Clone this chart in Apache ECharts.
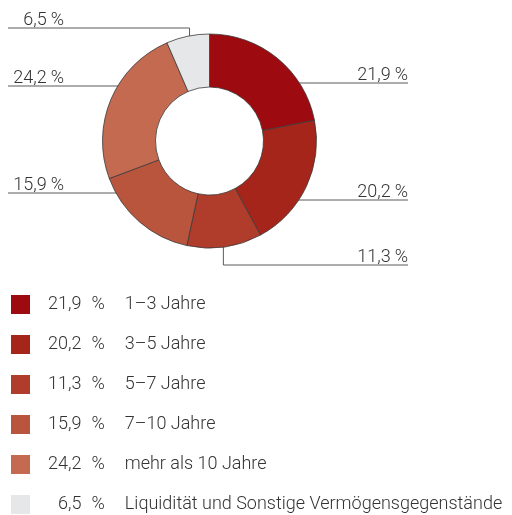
<!DOCTYPE html>
<html>
<head>
<meta charset="utf-8">
<script src="https://cdn.jsdelivr.net/npm/echarts@6/dist/echarts.min.js"></script>
<style>
  html, body { margin: 0; padding: 0; background: #fff; }
  #main { width: 512px; height: 515px; }
</style>
</head>
<body>
<div id="main"></div>
<script>
var categories = ['1–3 Jahre', '3–5 Jahre', '5–7 Jahre', '7–10 Jahre', 'mehr als 10 Jahre', 'Liquidität und Sonstige Vermögensgegenstände']
var shares = [21.9, 20.2, 11.3, 15.9, 24.2, 6.5]
var colors = ['#9d0a10', '#a6251b', '#b03c2b', '#ba553d', '#c46a51', '#e6e7e8']

// label layout (y of each leader line, and whether it starts with a vertical bend)
var lineY = [83, 200, 265, 193, 86, 28]
var bend = [false, false, true, false, false, true]

var cx = 209.5, cy = 141, rOut = 107, rIn = 54
var font = 'Roboto'
var fs = 18
var fmt = function (v) { return String(v).replace('.', ',') }

var total = shares.reduce(function (a, b) { return a + b }, 0)
var midAngles = []
var acc = 0
shares.forEach(function (v) {
  midAngles.push((acc + v / 2) / total * 2 * Math.PI)
  acc += v
})

function txt(extra) {
  var s = { fontFamily: font, fontWeight: 300, fontSize: fs, lineHeight: 19, color: '#333' }
  for (var k in extra) s[k] = extra[k]
  return s
}

var chart = echarts.init(document.getElementById('main'))

var option = {
  animation: false,
  color: colors,
  legend: {
    orient: 'vertical',
    left: 11,
    top: 295,
    padding: 0,
    height: 230,
    icon: 'rect',
    itemWidth: 19,
    itemHeight: 19,
    itemGap: 21,
    selectedMode: false,
    itemStyle: { borderWidth: 0 },
    textStyle: txt({
      rich: {
        v: txt({ padding: [0, 0, 0, 13] }),
        p: txt({ padding: [0, 0, 0, 10] }),
        n: txt({ padding: [0, 0, 0, 20] })
      }
    }),
    formatter: function (name) {
      var i = categories.indexOf(name)
      var v = fmt(shares[i])
      if (v.length < 4) v = '\u2007' + v
      return '{v|' + v + '}{p|%}{n|' + name + '}'
    }
  },
  series: [
    {
      type: 'pie',
      center: [cx, cy],
      radius: [rIn, rOut],
      startAngle: 90,
      clockwise: true,
      avoidLabelOverlap: false,
      itemStyle: { borderColor: '#3a3a3a', borderWidth: 0.8 },
      emphasis: { disabled: true },
      label: txt({
        show: true,
        position: 'outside',
        lineHeight: fs,
        rich: {
          v: txt({ lineHeight: fs }),
          p: txt({ lineHeight: fs, padding: [0, 0, 0, 4] })
        },
        formatter: function (p) { return '{v|' + fmt(p.value) + '}{p|%}' }
      }),
      labelLine: {
        show: true,
        lineStyle: { color: '#5a5a5a', width: 1 }
      },
      labelLayout: function (params) {
        var i = params.dataIndex
        var a = midAngles[i]
        var right = a < Math.PI
        var r = rOut * 0.92
        var sx, sy
        if (bend[i]) {
          sx = cx + r * Math.sin(a)
          sy = cy - r * Math.cos(a)
        } else {
          var dy = lineY[i] - cy
          var dx = Math.sqrt(Math.max(r * r - dy * dy, 0))
          sx = right ? cx + dx : cx - dx
          sy = lineY[i]
        }
        var ex = right ? 408 : 8
        return {
          x: right ? 408 : 64,
          y: lineY[i] + 1,
          align: 'right',
          verticalAlign: 'bottom',
          labelLinePoints: [[sx, sy], [sx, lineY[i]], [ex, lineY[i]]]
        }
      },
      data: categories.map(function (name, i) {
        return { name: name, value: shares[i] }
      })
    }
  ]
}

chart.setOption(option)
</script>
</body>
</html>
